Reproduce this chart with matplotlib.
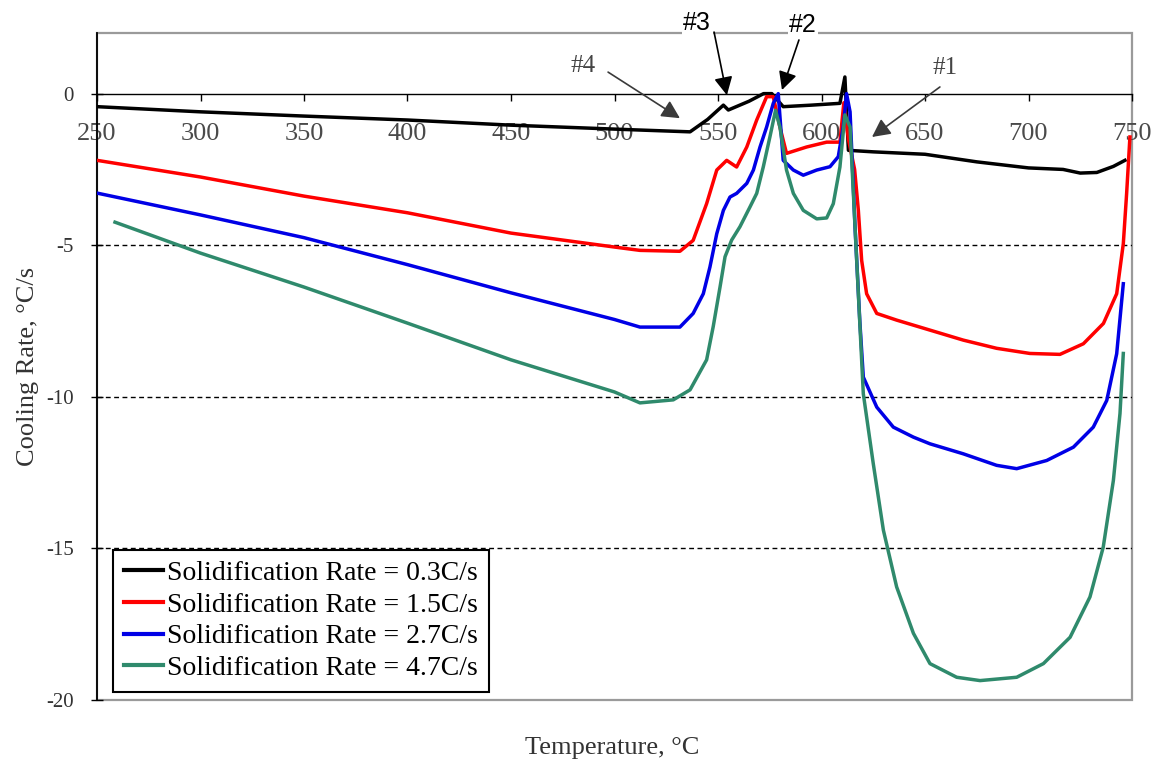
import matplotlib
matplotlib.use("Agg")
import matplotlib.pyplot as plt
from matplotlib.patches import Rectangle

# ---------------- data ----------------
T_black = [250, 300, 350, 400, 450, 500, 512, 536.5, 545, 552.6, 555, 565, 572, 576, 581.5, 595, 608.9,
           611.3, 613, 625, 650, 675, 700, 716.7, 725, 733, 741, 746.6]
R_black = [-0.43, -0.6, -0.74, -0.87, -1.04, -1.17, -1.2, -1.26, -0.85, -0.38, -0.54, -0.25, 0.0, 0.0, -0.43,
           -0.38, -0.32, 0.55, -1.87, -1.92, -2.0, -2.25, -2.45, -2.5, -2.62, -2.6, -2.4, -2.2]

T_red = [250, 300, 350, 400, 450, 500, 512.3, 531.6, 538, 544.5, 549.4, 554.2, 559, 563.9, 568.7, 573.5, 576.7,
         579.9, 583.1, 592.8, 602.5, 608.9, 610.8, 613, 616, 617.8, 619.4, 621.8, 626.7, 636.3, 652.4, 668.5,
         684.6, 700.7, 715.2, 726.5, 736.2, 742.6, 745.8, 747.4, 749]
R_red = [-2.2, -2.75, -3.38, -3.93, -4.6, -5.06, -5.17, -5.2, -4.84, -3.63, -2.52, -2.2, -2.42, -1.76, -0.87,
         -0.1, -0.1, -1.1, -1.97, -1.76, -1.6, -1.6, -0.3, -1.5, -2.5, -3.85, -5.5, -6.6, -7.25, -7.47, -7.8,
         -8.13, -8.4, -8.57, -8.6, -8.25, -7.58, -6.6, -4.95, -3.3, -1.43]

T_blue = [250, 300, 350, 400, 450, 500, 512.3, 531.6, 538, 542.9, 546.1, 549.4, 552.6, 555.8, 559, 563.9, 567.1,
          570.3, 573.5, 576.7, 579.1, 581.5, 586.4, 591.2, 597.7, 604.1, 608.1, 610.5, 612.1, 613.8, 616.2,
          618.5, 620.2, 626.7, 634.7, 644.4, 652.4, 668.5, 684.6, 694.3, 708.8, 721.7, 731.3, 737.8, 742.6, 745.8]
R_blue = [-3.28, -4.0, -4.75, -5.64, -6.57, -7.45, -7.7, -7.7, -7.25, -6.6, -5.72, -4.62, -3.85, -3.41, -3.29,
          -2.96, -2.52, -1.76, -1.1, -0.32, 0.0, -2.2, -2.52, -2.69, -2.52, -2.41, -2.08, -1.1, 0.0, -0.6, -4.4,
          -7.5, -9.35, -10.34, -11.0, -11.33, -11.55, -11.88, -12.26, -12.37, -12.1, -11.66, -11.0, -10.12,
          -8.58, -6.27]

T_green = [258.7, 300, 350, 400, 450, 500, 512.3, 528.4, 536.5, 544.5, 547.7, 551, 553.4, 556.6, 560.6, 565.5,
           568.7, 571.9, 575.1, 577.8, 579.9, 583.1, 586.4, 591.2, 597.7, 602.5, 605.7, 608.9, 611.3, 613.8,
           615.4, 617, 618.6, 620.2, 625, 629.9, 636.3, 644.4, 652.4, 665.3, 676.6, 694.3, 707.2, 720.1, 729.7,
           736.1, 741, 744.2, 745.8]
R_green = [-4.24, -5.26, -6.38, -7.57, -8.78, -9.84, -10.2, -10.1, -9.77, -8.78, -7.68, -6.37, -5.38, -4.83,
           -4.39, -3.73, -3.29, -2.41, -1.42, -0.55, -1.1, -2.52, -3.29, -3.85, -4.13, -4.1, -3.63, -2.42, -0.7,
           -1.1, -3.3, -5.5, -7.7, -9.9, -12.2, -14.4, -16.27, -17.8, -18.8, -19.25, -19.36, -19.25, -18.8,
           -17.93, -16.6, -14.96, -12.76, -10.55, -8.57]

labels = ["Solidification Rate = 0.3C/s", "Solidification Rate = 1.5C/s",
          "Solidification Rate = 2.7C/s", "Solidification Rate = 4.7C/s"]
colors = ["#000000", "#ff0000", "#0000e6", "#2f8a6c"]

x_ticks = [250, 300, 350, 400, 450, 500, 550, 600, 650, 700, 750]
y_ticks = [0, -5, -10, -15, -20]
grid_levels = [-5, -10, -15]

# annotation: label, text pos, arrow tail, arrow head
notes = [
    ("#4", (484.8, 0.91), (496.9, 0.71), (531.6, -0.81)),
    ("#3", (539.9, 2.32), (548.1, 2.03), (554.3, -0.05)),
    ("#2", (591.1, 2.26), (589.1, 1.77), (580.9, 0.12)),
    ("#1", (659.7, 0.84), (657.2, 0.22), (624.4, -1.43)),
]

# ---------------- figure ----------------
SERIF = ["Liberation Serif", "DejaVu Serif"]
SANS = ["Liberation Sans", "DejaVu Sans"]

fig = plt.figure(figsize=(11.62, 7.66), dpi=100)
ax = fig.add_axes([97 / 1162, 1 - 700 / 766, (1132 - 97) / 1162, (700 - 33) / 766])
ax.set_xlim(250, 750)
ax.set_ylim(-20, 2)

# frame
ax.add_patch(Rectangle((0, 0), 1, 1, transform=ax.transAxes, fill=False,
                       edgecolor="#9a9a9a", lw=1.6, clip_on=False, zorder=0.5))
for s in ["top", "right"]:
    ax.spines[s].set_visible(False)
ax.spines["left"].set_color("black")
ax.spines["left"].set_linewidth(1.3)
ax.spines["bottom"].set_position(("data", 0))
ax.spines["bottom"].set_color("black")
ax.spines["bottom"].set_linewidth(1.0)

for g in grid_levels:
    ax.axhline(g, color="black", lw=1.0, ls=(0, (3.5, 2.5)), zorder=1)

ax.set_xticks(x_ticks)
ax.set_yticks(y_ticks)
ax.set_xticklabels([str(v) for v in x_ticks], fontfamily=SERIF, fontsize=19, color="#4a4a4a")
ax.set_yticklabels([str(v) for v in y_ticks], fontfamily=SERIF, fontsize=15, color="#333333")
ax.tick_params(axis="x", direction="out", length=5, width=1, pad=16)
ax.tick_params(axis="y", direction="inout", length=9, width=1, pad=12)

series = [(T_black, R_black), (T_red, R_red), (T_blue, R_blue), (T_green, R_green)]
handles = []
for (t, r), c, lab in zip(series, colors, labels):
    h, = ax.plot(t, r, color=c, lw=2.5, label=lab, zorder=3, solid_joinstyle="round")
    handles.append(h)

for lab, tpos, tail, head in notes:
    dark = lab in ("#3", "#2")
    col = "black" if dark else "#3a3a3a"
    ax.annotate("", xy=head, xytext=tail,
                arrowprops=dict(arrowstyle="-|>,head_length=0.55,head_width=0.28",
                                color=col, lw=1.2, shrinkA=0, shrinkB=0, mutation_scale=20),
                annotation_clip=False, zorder=5)
    if dark:
        ax.text(tpos[0], tpos[1], lab, fontfamily=SANS, fontsize=18, color="black",
                ha="center", va="center", zorder=6, clip_on=False,
                bbox=dict(facecolor="white", edgecolor="none", pad=1))
    else:
        ax.text(tpos[0], tpos[1], lab, fontfamily=SERIF, fontsize=18, color="#444444",
                ha="center", va="center", zorder=6, clip_on=False)

leg = ax.legend(handles=handles, loc="lower left", bbox_to_anchor=(0.0155, 0.012),
                borderaxespad=0, prop={"family": SERIF, "size": 20}, frameon=True,
                fancybox=False, framealpha=1, edgecolor="black", handlelength=1.4,
                handletextpad=0.15, labelspacing=0.22, borderpad=0.4)
leg.get_frame().set_linewidth(1.5)
for lh in leg.get_lines():
    lh.set_linewidth(3)

fig.text(28 / 1162, 1 - 366 / 766, "Cooling Rate, °C/s", rotation=90, ha="center", va="center",
         fontfamily=SERIF, fontsize=19, color="#333333")
fig.text(612 / 1162, 1 - 748 / 766, "Temperature, °C", ha="center", va="center",
         fontfamily=SERIF, fontsize=19, color="#333333")

fig.savefig("out.png", dpi=100)
